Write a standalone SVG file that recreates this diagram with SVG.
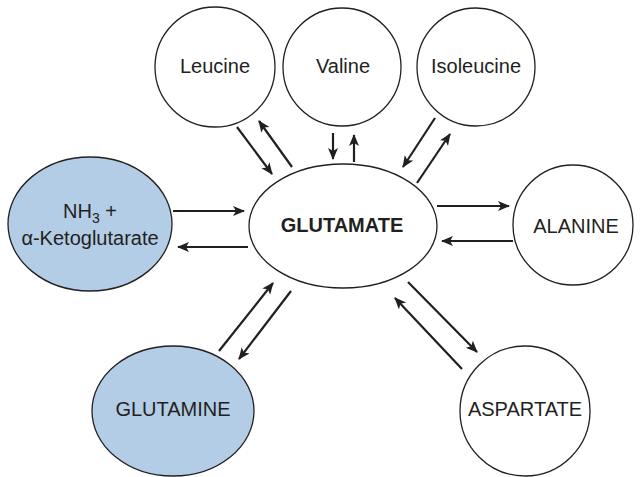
<svg xmlns="http://www.w3.org/2000/svg" width="641" height="477" viewBox="0 0 641 477">
<style>
.node{fill:#fff;stroke:#231f20;stroke-width:1.3}
.blue{fill:#b2cde5}
.t{font-family:"Liberation Sans",Arial,sans-serif;font-size:20px;fill:#231f20;text-anchor:middle}
.b{font-weight:bold}
.c line{stroke:#231f20;stroke-width:2.2;marker-end:url(#ah)}
</style>
<defs>
<marker id="ah" markerUnits="userSpaceOnUse" markerWidth="14" markerHeight="12" refX="11" refY="5" orient="auto" viewBox="0 0 14 12">
<path d="M0,0 L12,5 L0,10 L3,5 Z" fill="#231f20"/>
</marker>
</defs>
<g id="glutamate"><ellipse class="node" cx="343" cy="226" rx="94" ry="62"/><text class="t b" x="342" y="232">GLUTAMATE</text></g>
<g id="leucine"><circle class="node" cx="215" cy="67" r="60"/><text class="t" x="215" y="73">Leucine</text></g>
<g id="valine"><circle class="node" cx="342" cy="67" r="59"/><text class="t" x="343" y="73">Valine</text></g>
<g id="isoleucine"><circle class="node" cx="476" cy="67" r="59"/><text class="t" x="476" y="73">Isoleucine</text></g>
<g id="alanine"><circle class="node" cx="573" cy="225" r="60"/><text class="t" x="576" y="233">ALANINE</text></g>
<g id="nh3"><ellipse class="node blue" cx="90" cy="224" rx="82" ry="67"/><text class="t" x="90" y="218">NH<tspan font-size="14" dy="5">3</tspan><tspan dy="-5"> +</tspan></text><text class="t" x="90" y="245">α-Ketoglutarate</text></g>
<g id="glutamine"><ellipse class="node blue" cx="173" cy="411" rx="81" ry="65"/><text class="t" x="173" y="416">GLUTAMINE</text></g>
<g id="aspartate"><circle class="node" cx="525" cy="411" r="65"/><text class="t" x="525" y="416">ASPARTATE</text></g>
<g id="connectors" class="c">
<line x1="173" y1="211" x2="244" y2="211"/>
<line x1="248" y1="247" x2="178" y2="247"/>
<line x1="437" y1="206" x2="509" y2="206"/>
<line x1="513" y1="241" x2="442" y2="241"/>
<line x1="237" y1="127" x2="272" y2="174"/>
<line x1="292" y1="167" x2="259" y2="121"/>
<line x1="333" y1="133" x2="333" y2="159"/>
<line x1="354" y1="162" x2="354" y2="135"/>
<line x1="435" y1="118" x2="403" y2="167"/>
<line x1="417" y1="183" x2="450" y2="134"/>
<line x1="219" y1="351" x2="273" y2="283"/>
<line x1="291" y1="291" x2="239" y2="359"/>
<line x1="408" y1="282" x2="477" y2="352"/>
<line x1="462" y1="369" x2="395" y2="298"/>
</g>
</svg>
